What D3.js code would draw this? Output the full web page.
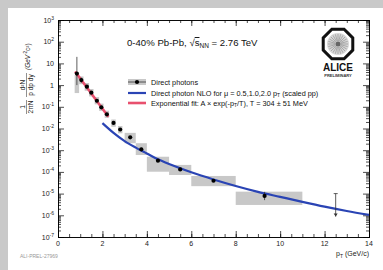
<!DOCTYPE html>
<html>
<head>
<script src="https://d3js.org/d3.v7.min.js"></script>
<style>
  body { margin: 0; background: #c9c9c9; }
  svg { display: block; font-family: "Liberation Sans", Arial, sans-serif; }
</style>
</head>
<body>
<div id="chart"></div>
<script>
// direct photon points (pT GeV/c, yield)
const ptData   = [0.85, 1.05, 1.3, 1.5, 1.75, 1.95, 2.2, 2.5, 2.8, 3.25, 3.75, 4.5, 5.5, 7.0, 9.3];
const yieldVal = [3.4, 1.7, 0.85, 0.45, 0.19, 0.095, 0.045, 0.018, 0.009, 0.0039, 0.0011, 3.3e-4, 1.3e-4, 3.9e-5, 7.8e-6];
const statLo   = [1.0, 1.3, 0.7, 0.38, 0.16, 0.08, 0.038, 0.015, 0.0075, 0.0034, 0.0009, 2.9e-4, 1.15e-4, 3.5e-5, 5e-6];
const statHi   = [20, 2.2, 1.0, 0.53, 0.23, 0.11, 0.053, 0.021, 0.0105, 0.0045, 0.0013, 3.7e-4, 1.45e-4, 4.3e-5, 1.2e-5];
// systematic boxes
const sysPtLo = [0.75, 0.95, 1.2, 1.4, 1.65, 1.85, 2.1, 2.4, 2.7, 3.0, 3.5, 4.0, 5.0, 6.0, 8.0];
const sysPtHi = [0.95, 1.15, 1.4, 1.6, 1.85, 2.05, 2.3, 2.6, 2.9, 3.5, 4.0, 5.0, 6.0, 8.0, 11.0];
const sysLo   = [0.43, 1.1, 0.55, 0.3, 0.13, 0.065, 0.031, 0.012, 0.006, 0.0021, 6e-4, 1.02e-4, 7.2e-5, 2.2e-5, 3e-6];
const sysHi   = [2.9, 2.5, 1.25, 0.66, 0.28, 0.14, 0.066, 0.026, 0.013, 0.0063, 0.0021, 5e-4, 2.1e-4, 6.5e-5, 1.23e-5];
// upper limit
const ulPt = 12.5, ulTop = 1.0e-5, ulBottom = 8.7e-7;
// NLO curve
const nloPt  = [2.0, 2.5, 3.0, 3.5, 4.0, 4.5, 5.0, 6.0, 7.0, 8.0, 9.0, 10.0, 11.0, 12.0, 13.0, 14.0];
const nloLog = [-1.75, -2.2, -2.58, -2.88, -3.15, -3.42, -3.64, -4.02, -4.35, -4.65, -4.92, -5.15, -5.38, -5.6, -5.8, -5.98];
// exponential fit line end points
const fitPt  = [0.77, 2.27];
const fitVal = [4.2, 0.035];

const xTicks = [0, 2, 4, 6, 8, 10, 12, 14];
const yTicks = [3, 2, 1, 0, -1, -2, -3, -4, -5, -6, -7];

const W = 383, H = 270;
const margin = { top: 20, right: 14, bottom: 33, left: 58 };
const width = W - margin.left - margin.right;
const height = H - margin.top - margin.bottom;

const svg = d3.select("#chart").append("svg")
  .attr("width", W).attr("height", H);

svg.append("rect").attr("x", 8).attr("y", 8).attr("width", W - 8).attr("height", H - 8).attr("fill", "#fff");

const g = svg.append("g").attr("transform", `translate(${margin.left},${margin.top})`);

const x = d3.scaleLinear().domain([0, 14]).range([0, width]);
const y = d3.scaleLog().domain([1e-7, 1e3]).range([height, 0]);

// minor ticks for log axis
const minor = [];
for (let e = -7; e < 3; e++) for (let m = 2; m < 10; m++) minor.push(m * Math.pow(10, e));
const xMinor = d3.range(0, 14.01, 0.5);

function axisStyle(sel) {
  sel.select(".domain").attr("stroke", "#000").attr("stroke-width", 0.8);
  sel.selectAll(".tick line").attr("stroke", "#000").attr("stroke-width", 0.7);
}

// left
g.append("g").call(d3.axisLeft(y).tickValues(yTicks.map(e => Math.pow(10, e))).tickSize(-6).tickFormat(""))
  .call(axisStyle);
g.append("g").call(d3.axisLeft(y).tickValues(minor).tickSize(-3).tickFormat("")).call(axisStyle);
// right
g.append("g").attr("transform", `translate(${width},0)`)
  .call(d3.axisRight(y).tickValues(yTicks.map(e => Math.pow(10, e))).tickSize(-6).tickFormat("")).call(axisStyle);
g.append("g").attr("transform", `translate(${width},0)`)
  .call(d3.axisRight(y).tickValues(minor).tickSize(-3).tickFormat("")).call(axisStyle);
// bottom
g.append("g").attr("transform", `translate(0,${height})`)
  .call(d3.axisBottom(x).tickValues(xTicks).tickSize(-6).tickFormat("")).call(axisStyle);
g.append("g").attr("transform", `translate(0,${height})`)
  .call(d3.axisBottom(x).tickValues(xMinor).tickSize(-3).tickFormat("")).call(axisStyle);
// top
g.append("g").call(d3.axisTop(x).tickValues(xTicks).tickSize(-6).tickFormat("")).call(axisStyle);
g.append("g").call(d3.axisTop(x).tickValues(xMinor).tickSize(-3).tickFormat("")).call(axisStyle);

// y tick labels
yTicks.forEach(e => {
  const t = g.append("text").attr("x", -4).attr("y", y(Math.pow(10, e)) + 2.5)
    .attr("text-anchor", "end").attr("font-size", 7).attr("fill", "#222");
  if (e === 0) t.text("1");
  else if (e === 1) t.text("10");
  else {
    t.append("tspan").text("10");
    t.append("tspan").attr("font-size", 5).attr("dy", -3).text(e);
  }
});
// x tick labels
xTicks.forEach(v => {
  g.append("text").attr("x", x(v)).attr("y", height + 9).attr("text-anchor", "middle")
    .attr("font-size", 7).attr("fill", "#222").text(v);
});
// x label
const xl = g.append("text").attr("x", width).attr("y", height + 19).attr("text-anchor", "end")
  .attr("font-size", 7).attr("fill", "#222");
xl.append("tspan").text("p");
xl.append("tspan").attr("font-size", 5).attr("dy", 2).text("T");
xl.append("tspan").attr("dy", -2).text(" (GeV/c)");

// y label (rotated fraction)
const yl = svg.append("g").attr("transform", "translate(27,114) rotate(-90)")
  .attr("font-size", 6.5).attr("fill", "#222");
yl.append("text").attr("x", 7).attr("y", -2).attr("text-anchor", "middle").text("1");
yl.append("text").attr("x", 7).attr("y", 6).attr("text-anchor", "middle").text("2πN");
yl.append("line").attr("x1", 0).attr("x2", 14).attr("y1", -0.5).attr("y2", -0.5).attr("stroke", "#222").attr("stroke-width", 0.5);
yl.append("text").attr("x", 29).attr("y", -2).attr("text-anchor", "middle").text("d²N");
yl.append("text").attr("x", 29).attr("y", 6).attr("text-anchor", "middle").text("p dp dy");
yl.append("line").attr("x1", 17).attr("x2", 41).attr("y1", -0.5).attr("y2", -0.5).attr("stroke", "#222").attr("stroke-width", 0.5);
yl.append("text").attr("x", 44).attr("y", 2.5).attr("font-style", "italic").text("(GeV");
yl.append("text").attr("x", 59).attr("y", 0).attr("font-size", 4.5).text("-2");
yl.append("text").attr("x", 63).attr("y", 2.5).text("c²)");

// systematic boxes
g.selectAll(".sys").data(ptData).enter().append("rect")
  .attr("x", (d, i) => x(sysPtLo[i]))
  .attr("width", (d, i) => x(sysPtHi[i]) - x(sysPtLo[i]))
  .attr("y", (d, i) => y(sysHi[i]))
  .attr("height", (d, i) => y(sysLo[i]) - y(sysHi[i]))
  .attr("fill", "#c8c8c8");

// NLO curve
const line = d3.line().x(d => x(d[0])).y(d => y(Math.pow(10, d[1]))).curve(d3.curveMonotoneX);
g.append("path").datum(nloPt.map((p, i) => [p, nloLog[i]]))
  .attr("d", line).attr("fill", "none").attr("stroke", "#2a44b4").attr("stroke-width", 2.2);

// exponential fit
g.append("path").datum(fitPt.map((p, i) => [p, Math.log10(fitVal[i])]))
  .attr("d", line).attr("fill", "none").attr("stroke", "#e8506e").attr("stroke-width", 2.6);

// stat errors
g.selectAll(".err").data(ptData).enter().append("line")
  .attr("x1", d => x(d)).attr("x2", d => x(d))
  .attr("y1", (d, i) => y(statHi[i])).attr("y2", (d, i) => y(statLo[i]))
  .attr("stroke", "#333").attr("stroke-width", 0.8);

// points
g.selectAll(".pt").data(ptData).enter().append("circle")
  .attr("cx", d => x(d)).attr("cy", (d, i) => y(yieldVal[i]))
  .attr("r", 2.1).attr("fill", "#000");

// upper limit arrow
g.append("line").attr("x1", x(ulPt)).attr("x2", x(ulPt)).attr("y1", y(ulTop)).attr("y2", y(ulBottom))
  .attr("stroke", "#333").attr("stroke-width", 0.8);
g.append("line").attr("x1", x(ulPt) - 2).attr("x2", x(ulPt) + 2).attr("y1", y(ulTop)).attr("y2", y(ulTop))
  .attr("stroke", "#333").attr("stroke-width", 0.8);
g.append("path")
  .attr("d", `M${x(ulPt) - 2},${y(ulBottom) - 3}L${x(ulPt) + 2},${y(ulBottom) - 3}L${x(ulPt)},${y(ulBottom)}Z`)
  .attr("fill", "#333");

// title
const title = svg.append("text").attr("x", 127).attr("y", 46).attr("font-size", 9.6).attr("fill", "#111");
title.append("tspan").text("0-40%  Pb-Pb, ");
title.append("tspan").text("√");
title.append("tspan").attr("text-decoration", "overline").text("s");
title.append("tspan").attr("font-size", 6.5).attr("dy", 2).text("NN");
title.append("tspan").attr("dy", -2).text(" = 2.76 TeV");

// legend
const lg = svg.append("g").attr("font-size", 7.3).attr("fill", "#111");
lg.append("rect").attr("x", 128).attr("y", 79).attr("width", 18).attr("height", 6).attr("fill", "#c8c8c8");
lg.append("line").attr("x1", 128).attr("x2", 146).attr("y1", 82).attr("y2", 82).attr("stroke", "#333").attr("stroke-width", 0.8);
lg.append("circle").attr("cx", 137).attr("cy", 82).attr("r", 2.1).attr("fill", "#000");
lg.append("text").attr("x", 151).attr("y", 84.5).text("Direct photons");
lg.append("line").attr("x1", 128).attr("x2", 146).attr("y1", 93).attr("y2", 93).attr("stroke", "#2a44b4").attr("stroke-width", 2.2);
const l2 = lg.append("text").attr("x", 151).attr("y", 95.5);
l2.append("tspan").text("Direct photon NLO for μ = 0.5,1.0,2.0 p");
l2.append("tspan").attr("font-size", 5).attr("dy", 1.5).text("T");
l2.append("tspan").attr("dy", -1.5).text(" (scaled pp)");
lg.append("line").attr("x1", 128).attr("x2", 146).attr("y1", 103).attr("y2", 103).attr("stroke", "#e8506e").attr("stroke-width", 2.6);
const l3 = lg.append("text").attr("x", 151).attr("y", 105.5);
l3.append("tspan").text("Exponential fit: A × exp(-p");
l3.append("tspan").attr("font-size", 5).attr("dy", 1.5).text("T");
l3.append("tspan").attr("dy", -1.5).text("/T), T = 304 ± 51 MeV");

// ALICE logo
const cx = 338, cy = 44, R = 16;
const oct = d3.range(8).map(k => {
  const a = Math.PI / 8 + k * Math.PI / 4;
  return [cx + R * Math.cos(a), cy + R * Math.sin(a)];
});
svg.append("path").attr("d", "M" + oct.join("L") + "Z").attr("fill", "none").attr("stroke", "#111").attr("stroke-width", 3);
svg.append("circle").attr("cx", cx).attr("cy", cy).attr("r", 11).attr("fill", "#d8d8d8");
d3.range(24).forEach(k => {
  const a = k * Math.PI / 12;
  svg.append("line").attr("x1", cx + 3 * Math.cos(a)).attr("y1", cy + 3 * Math.sin(a))
    .attr("x2", cx + 10 * Math.cos(a)).attr("y2", cy + 10 * Math.sin(a))
    .attr("stroke", "#888").attr("stroke-width", 0.6);
});
svg.append("circle").attr("cx", cx).attr("cy", cy).attr("r", 2.5).attr("fill", "#666");
svg.append("text").attr("x", cx).attr("y", 71).attr("text-anchor", "middle").attr("font-size", 10)
  .attr("font-weight", "bold").attr("fill", "#111").text("ALICE");
svg.append("text").attr("x", cx).attr("y", 77).attr("text-anchor", "middle").attr("font-size", 4)
  .attr("font-weight", "bold").attr("fill", "#333").text("PRELIMINARY");

// figure id
svg.append("text").attr("x", 20).attr("y", 258).attr("font-size", 5).attr("fill", "#999").text("ALI-PREL-27969");
</script>
</body>
</html>
